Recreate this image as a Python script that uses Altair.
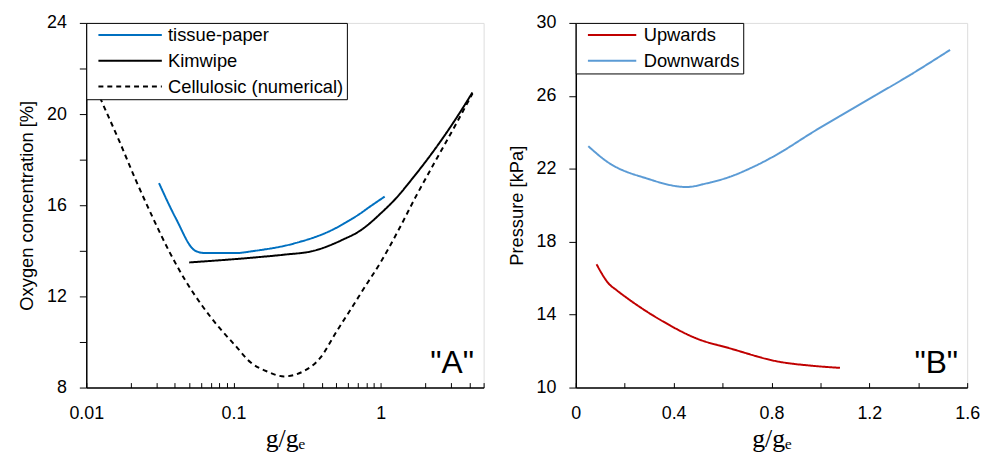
import altair as alt
import pandas as pd

# ---------------- Panel A data ----------------
tissue_x = [0.0312, 0.0404, 0.0551, 0.0643, 0.102, 0.14, 0.257, 0.476, 0.6, 0.72, 0.85, 1.064]
tissue_y = [16.97, 15.45, 14.0, 13.9, 13.9, 14.0, 14.32, 14.94, 15.3, 15.62, 15.95, 16.38]
kim_x = [0.05, 0.14, 0.22, 0.35, 0.557, 0.723, 0.84, 0.984, 1.276, 1.65, 2.14, 2.77, 3.58, 4.2]
kim_y = [13.49, 13.71, 13.83, 14.0, 14.5, 14.88, 15.2, 15.6, 16.32, 17.19, 18.13, 19.14, 20.23, 20.95]
cell_x = [0.0105, 0.0128, 0.0168, 0.0217, 0.0281, 0.0364, 0.0471, 0.0611, 0.079, 0.102,
          0.131, 0.17, 0.22, 0.30, 0.388, 0.50, 0.65, 0.76, 1.01, 1.343, 1.738, 2.31,
          3.27, 4.2]
cell_y = [21.8, 20.52, 18.8, 17.1, 15.5, 14.0, 12.7, 11.6, 10.67, 9.87,
          9.1, 8.7, 8.49, 8.72, 9.3, 10.45, 11.6, 12.3, 13.55, 15.0, 16.4, 17.85,
          19.6, 20.9]
series_a = ["tissue-paper", "Kimwipe", "Cellulosic (numerical)"]
colors_a = ["#0070C0", "#000000", "#000000"]
dashes_a = [[1, 0], [1, 0], [5, 4]]

# ---------------- Panel B data ----------------
up_x = [0.085, 0.136, 0.166, 0.224, 0.36, 0.494, 0.63, 0.83, 0.97, 1.08]
up_y = [16.76, 15.68, 15.35, 14.77, 13.6, 12.69, 12.15, 11.42, 11.19, 11.08]
down_x = [0.051, 0.13, 0.29, 0.454, 0.535, 0.63, 0.717, 0.805, 0.98, 1.17, 1.37, 1.53]
down_y = [23.24, 22.37, 21.47, 21.0, 21.2, 21.56, 22.05, 22.65, 24.1, 25.6, 27.17, 28.52]
series_b = ["Upwards", "Downwards"]
colors_b = ["#C00000", "#5B9BD5"]
dashes_b = [[1, 0], [1, 0]]

# tick values
xa_ticks = [0.01, 0.02, 0.03, 0.04, 0.05, 0.06, 0.07, 0.08, 0.09,
            0.1, 0.2, 0.3, 0.4, 0.5, 0.6, 0.7, 0.8, 0.9, 1, 2, 3, 4, 5]
ya_ticks = list(range(8, 25))
xb_ticks = [round(i * 0.1, 1) for i in range(17)]
yb_ticks = list(range(10, 31, 2))

def frame(xs, ys, name, order):
    return pd.DataFrame({"x": xs, "y": ys, "series": name, "order": order})

df_a = pd.concat([
    frame(tissue_x, tissue_y, series_a[0], range(len(tissue_x))),
    frame(kim_x, kim_y, series_a[1], range(len(kim_x))),
    frame(cell_x, cell_y, series_a[2], range(len(cell_x))),
])
df_b = pd.concat([
    frame(up_x, up_y, series_b[0], range(len(up_x))),
    frame(down_x, down_y, series_b[1], range(len(down_x))),
])

SANS = "Liberation Sans"
SERIF = "Liberation Serif"
XTITLE = "g/gₑ"

def y_axis(title, values, label_expr):
    return alt.Axis(title=title, values=values, labelExpr=label_expr, grid=False,
                    tickSize=7, tickColor="black", tickWidth=1, labelPadding=13,
                    labelFont=SANS, labelFontSize=18, labelColor="black",
                    titleFont=SANS, titleFontSize=18.5, titleFontWeight="normal",
                    titleColor="black", titlePadding=10,
                    domainColor="black", domainWidth=1.5)

def x_axis(values, label_expr):
    return alt.Axis(title=XTITLE, values=values, labelExpr=label_expr, grid=False,
                    tickSize={"expr": "-5"}, tickColor="black", tickWidth=1, labelPadding=22,
                    labelFont=SANS, labelFontSize=18, labelColor="black", labelFlush=False,
                    titleFont=SERIF, titleFontSize=26, titleFontWeight="normal",
                    titleColor="black", titlePadding=3,
                    domainColor="black", domainWidth=1.5)

def legend(path, label_offset):
    return alt.Legend(title=None, orient="top-left", offset=0, fillColor="white",
                      strokeColor="black", padding=3, symbolType=path,
                      symbolSize=256, symbolStrokeWidth=2, labelFont=SANS,
                      labelFontSize=18.5, labelColor="black", labelOffset=label_offset,
                      rowPadding=7, labelLimit=400)

leg_a = legend("M0,0H8", 61)
lines_a = alt.Chart(df_a).mark_line(strokeWidth=2, clip=True, interpolate="monotone").encode(
    x=alt.X("x:Q", scale=alt.Scale(type="log", domain=[0.01, 5], nice=False),
            axis=x_axis(xa_ticks, "datum.value == 0.01 ? '0.01' : datum.value == 0.1 ? '0.1' : datum.value == 1 ? '1' : ''")),
    y=alt.Y("y:Q", scale=alt.Scale(domain=[8, 24], nice=False, zero=False),
            axis=y_axis("Oxygen concentration [%]", ya_ticks,
                        "datum.value % 4 == 0 ? datum.label : ''")),
    color=alt.Color("series:N", scale=alt.Scale(domain=series_a, range=colors_a), legend=leg_a),
    strokeDash=alt.StrokeDash("series:N", scale=alt.Scale(domain=series_a, range=dashes_a), legend=leg_a),
    order="order:Q",
)
lab_a = alt.Chart(pd.DataFrame({"x": [4.3], "y": [8.65], "t": ['"A"']})).mark_text(
    font=SANS, fontSize=32, align="right", baseline="alphabetic", color="black"
).encode(x="x:Q", y="y:Q", text="t:N")
panel_a = alt.layer(lines_a, lab_a).properties(width=401, height=368)

leg_b = legend("M0,0H6.1", 47)
lines_b = alt.Chart(df_b).mark_line(strokeWidth=2, clip=True, interpolate="monotone").encode(
    x=alt.X("x:Q", scale=alt.Scale(domain=[0, 1.6], nice=False),
            axis=x_axis(xb_ticks, "abs(round(datum.value * 10) % 4) == 0 ? format(datum.value, '~g') : ''")),
    y=alt.Y("y:Q", scale=alt.Scale(domain=[10, 30], nice=False, zero=False),
            axis=y_axis("Pressure [kPa]", yb_ticks,
                        "(datum.value - 10) % 4 == 0 ? datum.label : ''")),
    color=alt.Color("series:N", scale=alt.Scale(domain=series_b, range=colors_b), legend=leg_b),
    strokeDash=alt.StrokeDash("series:N", scale=alt.Scale(domain=series_b, range=dashes_b), legend=leg_b),
    order="order:Q",
)
lab_b = alt.Chart(pd.DataFrame({"x": [1.563], "y": [10.8], "t": ['"B"']})).mark_text(
    font=SANS, fontSize=32, align="right", baseline="alphabetic", color="black"
).encode(x="x:Q", y="y:Q", text="t:N")
panel_b = alt.layer(lines_b, lab_b).properties(width=395, height=368)

chart = alt.hconcat(panel_a, panel_b, spacing=93, bounds="flush").resolve_scale(
    color="independent", strokeDash="independent"
).properties(
    padding={"left": 9, "top": 3, "right": 5, "bottom": 0}
).configure_view(stroke="black", strokeWidth=1).configure(background="white")

chart.save("out.html", embed_options={"renderer": "svg", "actions": False})
